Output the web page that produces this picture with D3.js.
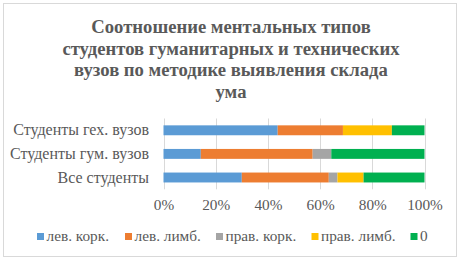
<!DOCTYPE html>
<html><head><meta charset="utf-8">
<script src="https://cdn.jsdelivr.net/npm/d3@7/dist/d3.min.js"></script>
<style>body{margin:0;background:#fff}svg{display:block}svg text{font-family:"Liberation Serif",serif !important;fill:#595959}</style>
</head><body><svg id="c" width="462" height="262" font-family="Liberation Serif"></svg>
<script>
const titleLines = ["Соотношение ментальных типов", "студентов гуманитарных и технических", "вузов по методике выявления склада", "ума"];
const categories = ["Студенты гех. вузов", "Студенты гум. вузов", "Все студенты"];
const seriesNames = ["лев. корк.", "лев. лимб.", "прав. корк.", "прав. лимб.", "0"];
const seriesColors = ["#5b9bd5", "#ed7d31", "#a5a5a5", "#ffc000", "#00b050"];
// percentages per category (rows) per series (columns)
const levKork = [43.75, 14.29, 30.0];
const levLimb = [25.0, 42.86, 33.33];
const pravKork = [0, 7.14, 3.33];
const pravLimb = [18.75, 0, 10.0];
const zero = [12.5, 35.71, 23.34];
const tickValues = [0, 20, 40, 60, 80, 100];

const svg = d3.select("#c");
svg.append("rect").attr("x", 3.5).attr("y", 3.5).attr("width", 453).attr("height", 253)
  .attr("fill", "#fff").attr("stroke", "#d9d9d9").attr("stroke-width", 1);

const t = svg.append("text").attr("text-anchor", "middle").attr("font-weight", "bold")
  .attr("font-size", "18.67px");
titleLines.forEach((l, i) => t.append("tspan").attr("x", 231).attr("y", 33 + i * 21.5).text(l));

const x = d3.scaleLinear().domain([0, 100]).range([163.5, 424.5]);
const y = d3.scaleBand().domain(categories).range([118.5, 189.3]).paddingInner(0.58).paddingOuter(0.29);

const data = [levKork, levLimb, pravKork, pravLimb, zero];
const rows = categories.map((c, i) => {
  const r = {cat: c};
  seriesNames.forEach((s, j) => r[s] = data[j][i]);
  return r;
});
const stacked = d3.stack().keys(seriesNames)(rows);

// grid
svg.append("g").selectAll("line").data(tickValues).join("line")
  .attr("x1", d => Math.round(x(d)) + 0.5).attr("x2", d => Math.round(x(d)) + 0.5)
  .attr("y1", 118.5).attr("y2", 189.3).attr("stroke", "#d9d9d9").attr("stroke-width", 1);

svg.append("g").selectAll("g").data(stacked).join("g")
  .attr("fill", (d, i) => seriesColors[i])
  .selectAll("rect").data(d => d).join("rect")
  .attr("x", d => x(d[0])).attr("width", d => x(d[1]) - x(d[0]))
  .attr("y", d => y(d.data.cat)).attr("height", y.bandwidth());

// category labels
svg.append("g").selectAll("text").data(categories).join("text")
  .attr("x", 149).attr("y", d => y(d) + y.bandwidth() / 2 + 5)
  .attr("text-anchor", "end").attr("font-size", "16px").text(d => d);

// x tick labels
const xAxis = d3.axisBottom(x).tickValues(tickValues).tickFormat(d => d + "%").tickSize(0).tickPadding(0);
const ga = svg.append("g").attr("transform", "translate(0,199)").call(xAxis);
ga.attr("font-family", "Liberation Serif").attr("font-size", "15.3px");
ga.select(".domain").remove();
ga.selectAll("text").attr("fill", "#595959").attr("dy", "0.71em");

// legend
const legX = [37, 125, 216, 311.5, 410.5];
const lg = svg.append("g").selectAll("g").data(seriesNames).join("g")
  .attr("transform", (d, i) => `translate(${legX[i]},0)`);
lg.append("rect").attr("x", 0).attr("y", 233).attr("width", 7).attr("height", 7).attr("fill", (d, i) => seriesColors[i]);
lg.append("text").attr("x", 9.5).attr("y", 241).attr("font-size", "15.3px").text(d => d);
</script></body></html>
